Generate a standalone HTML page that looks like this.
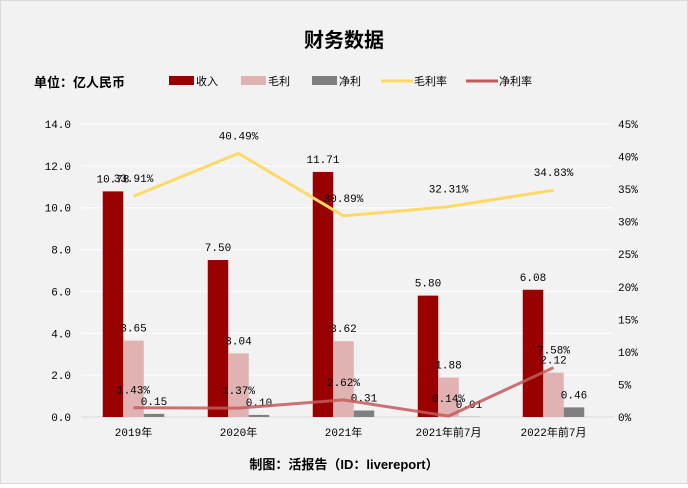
<!DOCTYPE html>
<html><head><meta charset="utf-8">
<style>
body{margin:0;background:#fff;}
#wrap{position:relative;width:686px;height:482px;background:#f2f2f2;border:1px solid #d9d9d9;font-family:"Liberation Sans","Noto Sans CJK SC",sans-serif;}
svg text{font-family:"Liberation Mono","Noto Sans CJK SC",monospace;}
</style></head><body>
<div id="wrap">
<svg id="c" width="686" height="482"></svg>
</div>
<script>
const categories=["2019年","2020年","2021年","2021年前7月","2022年前7月"];
const revenue=[10.78,7.50,11.71,5.80,6.08];
const grossProfit=[3.65,3.04,3.62,1.88,2.12];
const netProfit=[0.15,0.10,0.31,0.01,0.46];
const grossMargin=[33.91,40.49,30.89,32.31,34.83];
const netMargin=[1.43,1.37,2.62,0.14,7.58];
const leftTicks=[0,2,4,6,8,10,12,14];
const rightTicks=[0,5,10,15,20,25,30,35,40,45];

const svg=document.getElementById('c');
const NS="http://www.w3.org/2000/svg";
function mk(tag,attrs,parent){const e=document.createElementNS(NS,tag);for(const k in attrs)e.setAttribute(k,attrs[k]);(parent||svg).appendChild(e);return e;}
const x0=80,x1=605,yTop=123,yBot=416;
const yL=v=>yBot-(v/14)*(yBot-yTop);
const yR=v=>yBot-(v/45)*(yBot-yTop);
const band=(x1-x0)/categories.length;
const cx=i=>x0+band*(i+0.5);
const bw=20.5;

// title
let t=mk('text',{x:343,y:46,'text-anchor':'middle','font-size':20,'font-weight':'bold',fill:'#000',style:'font-family:"Liberation Sans","Noto Sans CJK SC",sans-serif'});t.textContent='财务数据';

t=mk('text',{x:33,y:86,'font-size':13,'font-weight':'bold',fill:'#000',style:'font-family:"Liberation Sans","Noto Sans CJK SC",sans-serif'});t.textContent='单位：亿人民币';

t=mk('text',{x:343,y:468,'text-anchor':'middle','font-size':13,'font-weight':'bold',fill:'#000',style:'font-family:"Liberation Sans","Noto Sans CJK SC",sans-serif'});t.textContent='制图：活报告（ID：livereport）';


// legend
const leg=[['收入','#990000','rect',168],['毛利','#e0b2b2','rect',240],['净利','#7f7f7f','rect',311],['毛利率','#ffd966','line',380],['净利率','#c55a5a','line',465]];
leg.forEach(l=>{
  const g=mk('g',{});
  
  if(l[2]==='rect')mk('rect',{x:l[3],y:75,width:25,height:9,fill:l[1]},g);
  else mk('line',{x1:l[3],x2:l[3]+32,y1:80,y2:80,stroke:l[1],'stroke-width':3},g);
  const tx=mk('text',{x:l[3]+(l[2]==='rect'?27:33),y:84,'font-size':11,fill:'#000'},g);tx.textContent=l[0];
});

// grid & ticks
leftTicks.forEach(v=>{
  const gl=mk('line',{x1:x0,x2:x1+7,y1:yL(v),y2:yL(v),stroke:v===0?'#d9d9d9':'#ffffff','stroke-width':1});
  
  const tx=mk('text',{x:70,y:yL(v)+4,'text-anchor':'end','font-size':11,fill:'#000'});tx.textContent=v.toFixed(1);
  
});
rightTicks.forEach(v=>{
  const tx=mk('text',{x:617,y:yR(v)+4,'font-size':11,fill:'#000'});tx.textContent=v+'%';
  
});
categories.forEach((c,i)=>{
  const tx=mk('text',{x:cx(i),y:435,'text-anchor':'middle','font-size':11,fill:'#000'});tx.textContent=c;
  
});

// bars
const series=[[revenue,'#990000',-bw],[grossProfit,'#e0b2b2',0],[netProfit,'#7f7f7f',bw]];
series.forEach(s=>{
  s[0].forEach((v,i)=>{
    const xx=cx(i)+s[2]-bw/2;
    const r=mk('rect',{x:xx,y:yL(v),width:bw,height:yBot-yL(v),fill:s[1]});
    
    const tx=mk('text',{x:xx+bw/2,y:yL(v)-9,'text-anchor':'middle','font-size':11,fill:'#000'});tx.textContent=v.toFixed(2);
    
  });
});

// lines
[[grossMargin,'#ffd966'],[netMargin,'#c55a5a']].forEach(s=>{
  const pts=s[0].map((v,i)=>cx(i)+','+yR(v)).join(' ');
  const pl=mk('polyline',{points:pts,fill:'none',stroke:s[1],'stroke-width':3,'stroke-opacity':s[1]==='#c55a5a'?0.85:1});
  
  s[0].forEach((v,i)=>{
    const tx=mk('text',{x:cx(i),y:yR(v)-14,'text-anchor':'middle','font-size':11,fill:'#000'});tx.textContent=v.toFixed(2)+'%';
    
  });
});
</script>
</body></html>
